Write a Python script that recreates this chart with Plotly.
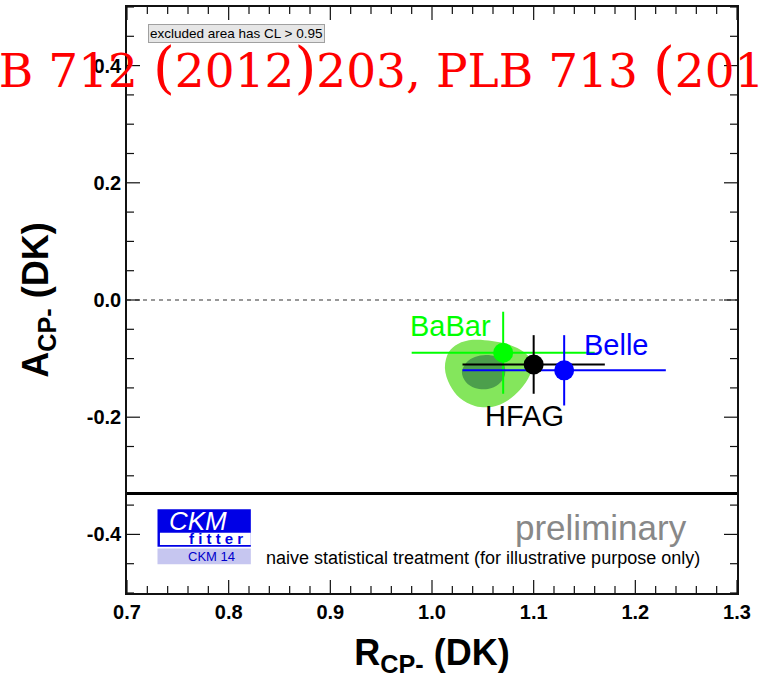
import plotly.graph_objects as go

# Measurements of R_CP- and A_CP- in B -> D K (CP-odd D final states)
experiments = ["BaBar", "Belle", "HFAG"]
r_cp = [1.07, 1.13, 1.10]
r_err = [0.09, 0.10, 0.07]
a_cp = [-0.09, -0.12, -0.11]
a_err = [0.07, 0.06, 0.05]
colors = ["#00ff00", "#0000ff", "#000000"]

# Confidence-level regions of the combination (outer: 95% CL, inner: 68% CL)
cl95_r = [1.0127, 1.0166, 1.0255, 1.0402, 1.0589, 1.0766, 1.0904, 1.0982,
          1.0963, 1.0864, 1.0737, 1.0589, 1.0422, 1.0274, 1.0176]
cl95_a = [-0.116, -0.0887, -0.075, -0.068, -0.0699, -0.0767, -0.0887, -0.1057,
          -0.1279, -0.1535, -0.1722, -0.1824, -0.1807, -0.1671, -0.1449]
cl68_r = [1.0294, 1.0343, 1.0422, 1.0530, 1.0638, 1.0707, 1.0717, 1.0658,
          1.0550, 1.0422, 1.0333]
cl68_a = [-0.1228, -0.1057, -0.0972, -0.0938, -0.0972, -0.1091, -0.1279,
          -0.1432, -0.1517, -0.1500, -0.1398]

x_range = [0.7, 1.3]
y_range = [-0.5, 0.5]
x_ticks = [0.7, 0.8, 0.9, 1.0, 1.1, 1.2, 1.3]
x_ticklabels = ["0.7", "0.8", "0.9", "1.0", "1.1", "1.2", "1.3"]
y_ticks = [-0.4, -0.2, 0.0, 0.2, 0.4]
y_ticklabels = ["-0.4", "-0.2", "0.0", "0.2", "0.4"]
x_minor_step = 0.02
y_minor_step = 0.05
separator_a = -0.33

SANS = "Liberation Sans, Arial, Helvetica, sans-serif"
PLOT_W, PLOT_H = 610, 586      # plot area size in px
MAJOR_LEN, MINOR_LEN = 13, 7   # tick lengths in px

fig = go.Figure()

# CL regions
fig.add_trace(go.Scatter(x=cl95_r + cl95_r[:1], y=cl95_a + cl95_a[:1],
                         mode="lines", fill="toself", line=dict(width=0, shape="spline"),
                         fillcolor="#84e65c", hoverinfo="skip", showlegend=False))
fig.add_trace(go.Scatter(x=cl68_r + cl68_r[:1], y=cl68_a + cl68_a[:1],
                         mode="lines", fill="toself", line=dict(width=0, shape="spline"),
                         fillcolor="#4c9f4c", hoverinfo="skip", showlegend=False))

# error bars first, dots on top
for i in range(len(experiments)):
    fig.add_trace(go.Scatter(
        x=[r_cp[i]], y=[a_cp[i]], mode="markers",
        marker=dict(size=1, color="rgba(0,0,0,0)"),
        error_x=dict(type="data", array=[r_err[i]], color=colors[i], thickness=2, width=0),
        error_y=dict(type="data", array=[a_err[i]], color=colors[i], thickness=2, width=0),
        hoverinfo="skip", showlegend=False))
for i in [0, 2, 1]:
    fig.add_trace(go.Scatter(
        x=[r_cp[i]], y=[a_cp[i]], mode="markers",
        marker=dict(size=20, color=colors[i], line=dict(width=0)),
        name=experiments[i], showlegend=False))

# experiment labels next to their points
label_shift = {"BaBar": (-53, 27), "Belle": (52, 25), "HFAG": (-9, -52)}
for i, name in enumerate(experiments):
    dx, dy = label_shift[name]
    fig.add_annotation(x=r_cp[i], y=a_cp[i], xref="x", yref="y", text=name,
                       showarrow=False, xshift=dx, yshift=dy,
                       xanchor="center", yanchor="middle",
                       font=dict(family=SANS, size=29, color=colors[i]))

# reference lines
fig.add_shape(type="line", xref="paper", x0=0, x1=1, yref="y", y0=0, y1=0,
              line=dict(color="#333333", width=1, dash="4px,4px"))
fig.add_shape(type="line", xref="paper", x0=0, x1=1, yref="y", y0=separator_a, y1=separator_a,
              line=dict(color="#000000", width=3))

# inward tick marks on all four sides of the frame
tick_line = dict(color="#111111", width=1.2)
n_x = int(round((x_range[1] - x_range[0]) / x_minor_step))
for k in range(n_x + 1):
    xv = round(x_range[0] + k * x_minor_step, 4)
    is_major = any(abs(xv - t) < 1e-6 for t in x_ticks)
    h = (MAJOR_LEN if is_major else MINOR_LEN) / PLOT_H
    fig.add_shape(type="line", xref="x", yref="paper", x0=xv, x1=xv, y0=0, y1=h,
                  line=tick_line, layer="above")
    fig.add_shape(type="line", xref="x", yref="paper", x0=xv, x1=xv, y0=1 - h, y1=1,
                  line=tick_line, layer="above")
n_y = int(round((y_range[1] - y_range[0]) / y_minor_step))
for k in range(n_y + 1):
    yv = round(y_range[0] + k * y_minor_step, 4)
    is_major = any(abs(yv - t) < 1e-6 for t in y_ticks)
    w = (MAJOR_LEN if is_major else MINOR_LEN) / PLOT_W
    fig.add_shape(type="line", xref="paper", yref="y", x0=0, x1=w, y0=yv, y1=yv,
                  line=tick_line, layer="above")
    fig.add_shape(type="line", xref="paper", yref="y", x0=1 - w, x1=1, y0=yv, y1=yv,
                  line=tick_line, layer="above")


def note(x, y, text, size, color, xanchor="center", **kw):
    fig.add_annotation(xref="paper", yref="paper", x=x, y=y, text=text, showarrow=False,
                       xanchor=xanchor, yanchor="middle",
                       font=dict(family=kw.pop("family", SANS), size=size, color=color), **kw)


# CKMfitter logo
fig.add_shape(type="rect", xref="paper", yref="paper", x0=0.050, x1=0.203, y0=0.079, y1=0.143,
              fillcolor="#0000e6", line=dict(width=0), layer="above")
fig.add_shape(type="rect", xref="paper", yref="paper", x0=0.054, x1=0.203, y0=0.082, y1=0.103,
              fillcolor="#ffffff", line=dict(width=0), layer="above")
fig.add_shape(type="rect", xref="paper", yref="paper", x0=0.050, x1=0.203, y0=0.049, y1=0.076,
              fillcolor="#c6c6f0", line=dict(width=0), layer="above")
note(0.1156, 0.1229, "<i>CKM</i>", 26, "#ffffff")
note(0.1459, 0.0922, "<b>f i t t e r</b>", 15, "#0000e6")
note(0.1385, 0.0631, "CKM 14", 13, "#0000cc")

note(0.9213, 0.1126, "preliminary", 35, "#888888", xanchor="right")
note(0.2246, 0.0597, "naive statistical treatment (for illustrative purpose only)",
     18, "#000000", xanchor="left")

note(0.1795, 0.954, "excluded area has CL > 0.95", 13.5, "#000000",
     bgcolor="#e6e6e6", bordercolor="#a0a0a0", borderwidth=1, borderpad=1)

# reference line with tall delimiters
LP = "<span style='font-size:56px'>(</span>"
RP = "<span style='font-size:56px'>)</span>"
note(-0.316, 0.8976, f"PLB 712 {LP}2012{RP}203, PLB 713 {LP}2012{RP} 351", 47, "#ff0000",
     xanchor="left", family="DejaVu Serif")

axis_common = dict(
    showgrid=False, zeroline=False, showline=True, linecolor="#111111", linewidth=1.5,
    mirror=True, ticks="",
    tickfont=dict(family=SANS, size=20, color="#000000", weight="bold"),
)
fig.update_xaxes(range=x_range, tickvals=x_ticks, ticktext=x_ticklabels,
                 title=dict(text="<b>R<sub>CP-</sub> (DK)</b>", standoff=18,
                            font=dict(family=SANS, size=36, color="#000000")),
                 **axis_common)
fig.update_yaxes(range=y_range, tickvals=y_ticks, ticktext=y_ticklabels,
                 title=dict(text="<b>A<sub>CP-</sub> (DK)</b>", standoff=27,
                            font=dict(family=SANS, size=36, color="#000000")),
                 **axis_common)

fig.update_layout(width=760, height=678, margin=dict(l=127, r=23, t=7, b=85, autoexpand=False),
                  plot_bgcolor="#ffffff", paper_bgcolor="#ffffff", showlegend=False)

fig.write_html("out.html")
